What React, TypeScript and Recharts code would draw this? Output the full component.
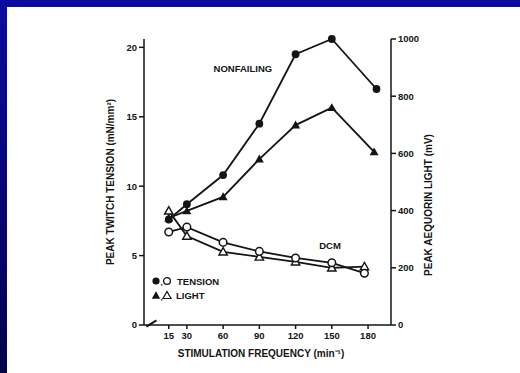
import React from 'react';
import {
    ComposedChart,
    Line,
    XAxis,
    YAxis,
    Legend,
    ReferenceDot,
    ReferenceLine,
} from 'recharts';

// ---- data ----
const frequencyTicks = [15, 30, 60, 90, 120, 150, 180];
const tensionTicks = [0, 5, 10, 15, 20];
const lightTicks = [0, 200, 400, 600, 800, 1000];

const nfTensionFreq = [15, 30, 60, 90, 120, 150, 187];
const nfTension = [7.6, 8.7, 10.8, 14.5, 19.5, 20.6, 17.0];

const nfLightFreq = [15, 30, 60, 90, 120, 150, 185];
const nfLight = [374, 399, 448, 580, 699, 760, 605];

const dcmFreq = [15, 30, 60, 90, 120, 150, 177];
const dcmTension = [6.7, 7.05, 5.95, 5.3, 4.83, 4.48, 3.73];
const dcmLight = [399, 311, 256, 238, 221, 200, 204];

const toPoints = (xs: number[], ys: number[]) => xs.map((x, i) => ({ freq: x, value: ys[i] }));

const INK = '#141414';
const FONT = "'Liberation Sans', Arial, sans-serif";

/**
 * Marker shapes
 */
function FilledCircle(props: any) {
    const { cx, cy, index } = props;
    if (cx == null || cy == null) return null;
    return <circle key={`fc-${index}`} cx={cx} cy={cy} r={3.9} fill={INK} />;
}

function OpenCircle(props: any) {
    const { cx, cy, index } = props;
    if (cx == null || cy == null) return null;
    return <circle key={`oc-${index}`} cx={cx} cy={cy} r={3.8} fill="#fff" stroke={INK} strokeWidth={1.5} />;
}

function trianglePath(cx: number, cy: number, s: number) {
    return `M${cx},${cy - s} L${cx + s},${cy + s * 0.75} L${cx - s},${cy + s * 0.75} Z`;
}

function FilledTriangle(props: any) {
    const { cx, cy, index } = props;
    if (cx == null || cy == null) return null;
    return <path key={`ft-${index}`} d={trianglePath(cx, cy, 4.5)} fill={INK} />;
}

function OpenTriangle(props: any) {
    const { cx, cy, index } = props;
    if (cx == null || cy == null) return null;
    return <path key={`ot-${index}`} d={trianglePath(cx, cy, 4.2)} fill="#fff" stroke={INK} strokeWidth={1.4} />;
}

/**
 * Axis title placed relative to the axis box
 */
function AxisTitle(props: any) {
    const { viewBox, text, offX = 0, offY = 0, turn = 0 } = props;
    const vb = viewBox || { x: 0, y: 0, width: 0, height: 0 };
    const cx = vb.x + vb.width / 2 + offX;
    const cy = vb.y + vb.height / 2 + offY;
    return (
        <g transform={turn ? `rotate(${turn}, ${cx}, ${cy})` : undefined}>
            <text
                x={cx}
                y={cy}
                textAnchor="middle"
                dominantBaseline="central"
                fill={INK}
                fontSize={10}
                fontWeight={700}
                fontFamily={FONT}
            >
                {text}
            </text>
        </g>
    );
}

/**
 * Symbol key drawn inside the plot
 */
function SymbolKey() {
    const row: React.CSSProperties = {
        display: 'flex',
        alignItems: 'center',
        height: 14,
        fontFamily: FONT,
        fontSize: 9.5,
        fontWeight: 700,
        color: INK,
        whiteSpace: 'nowrap',
    };
    return (
        <div>
            <div style={row}>
                <svg width={24} height={12}>
                    <circle cx={5} cy={6} r={3.6} fill={INK} />
                    <text x={9.5} y={10} fontSize={8} fill={INK}>,</text>
                    <circle cx={16} cy={6} r={3.4} fill="#fff" stroke={INK} strokeWidth={1.3} />
                </svg>
                <span style={{ marginLeft: 2 }}>TENSION</span>
            </div>
            <div style={row}>
                <svg width={24} height={12}>
                    <path d={trianglePath(5, 6.5, 4.2)} fill={INK} />
                    <text x={9.5} y={11} fontSize={8} fill={INK}>,</text>
                    <path d={trianglePath(16, 6.5, 4)} fill="#fff" stroke={INK} strokeWidth={1.2} />
                </svg>
                <span style={{ marginLeft: 1 }}>LIGHT</span>
            </div>
        </div>
    );
}

export default function App() {
    const tickStyle = { fill: INK, fontSize: 9.5, fontWeight: 700, fontFamily: FONT };
    const axisLine = { stroke: INK, strokeWidth: 1.5 };

    return (
        <div
            style={{
                position: 'absolute',
                left: 0,
                top: 0,
                width: 520,
                height: 373,
                background: 'linear-gradient(to bottom, #0b0ba0, #03034a)',
                overflow: 'hidden',
            }}
        >
            <div style={{ position: 'absolute', left: 7, top: 7, right: 0, bottom: 0, background: '#fff' }} />
            <div style={{ position: 'absolute', left: 0, top: 0 }}>
                <ComposedChart width={520} height={373} margin={{ top: 39, right: 0, bottom: 0, left: 0 }}>
                    <XAxis
                        xAxisId="f"
                        type="number"
                        dataKey="freq"
                        domain={[-5.5, 199]}
                        ticks={frequencyTicks}
                        allowDataOverflow
                        height={48}
                        tickSize={4}
                        tickMargin={3}
                        axisLine={axisLine}
                        tickLine={axisLine}
                        tick={tickStyle}
                        label={<AxisTitle text="STIMULATION FREQUENCY (min⁻¹)" offX={-6.5} offY={4} />}
                    />
                    <YAxis
                        yAxisId="t"
                        orientation="left"
                        domain={[0, 20]}
                        ticks={tensionTicks}
                        width={144}
                        tickSize={5}
                        tickMargin={2}
                        axisLine={axisLine}
                        tickLine={axisLine}
                        tick={tickStyle}
                        label={<AxisTitle text="PEAK TWITCH TENSION (mN/mm²)" offX={38} offY={0} turn={-90} />}
                    />
                    <YAxis
                        yAxisId="l"
                        orientation="right"
                        domain={[0, 1000]}
                        ticks={lightTicks}
                        width={129}
                        tickSize={5}
                        tickMargin={2}
                        axisLine={axisLine}
                        tickLine={axisLine}
                        tick={tickStyle}
                        label={<AxisTitle text="PEAK AEQUORIN LIGHT (mV)" offX={-27.5} offY={23} turn={-90} />}
                    />

                    {/* axis break on the frequency axis */}
                    <ReferenceLine
                        xAxisId="f"
                        yAxisId="t"
                        segment={[{ x: -3.5, y: -0.12 }, { x: 4.8, y: 0.33 }]}
                        stroke={INK}
                        strokeWidth={2}
                        ifOverflow="visible"
                    />

                    <Line
                        xAxisId="f"
                        yAxisId="t"
                        data={toPoints(nfTensionFreq, nfTension)}
                        dataKey="value"
                        name="Nonfailing tension"
                        stroke={INK}
                        strokeWidth={1.8}
                        dot={FilledCircle}
                        activeDot={false}
                        isAnimationActive={false}
                    />
                    <Line
                        xAxisId="f"
                        yAxisId="l"
                        data={toPoints(nfLightFreq, nfLight)}
                        dataKey="value"
                        name="Nonfailing light"
                        stroke={INK}
                        strokeWidth={1.8}
                        dot={FilledTriangle}
                        activeDot={false}
                        isAnimationActive={false}
                    />
                    <Line
                        xAxisId="f"
                        yAxisId="l"
                        data={toPoints(dcmFreq, dcmLight)}
                        dataKey="value"
                        name="DCM light"
                        stroke={INK}
                        strokeWidth={1.8}
                        dot={OpenTriangle}
                        activeDot={false}
                        isAnimationActive={false}
                    />
                    <Line
                        xAxisId="f"
                        yAxisId="t"
                        data={toPoints(dcmFreq, dcmTension)}
                        dataKey="value"
                        name="DCM tension"
                        stroke={INK}
                        strokeWidth={1.8}
                        dot={OpenCircle}
                        activeDot={false}
                        isAnimationActive={false}
                    />

                    {/* group labels */}
                    <ReferenceDot
                        xAxisId="f"
                        yAxisId="t"
                        x={76.4}
                        y={18.5}
                        r={0}
                        fill="none"
                        stroke="none"
                        label={{ value: 'NONFAILING', position: 'center', fill: INK, fontSize: 9.5, fontWeight: 700, fontFamily: FONT }}
                    />
                    <ReferenceDot
                        xAxisId="f"
                        yAxisId="t"
                        x={148.5}
                        y={5.73}
                        r={0}
                        fill="none"
                        stroke="none"
                        label={{ value: 'DCM', position: 'center', fill: INK, fontSize: 9.5, fontWeight: 700, fontFamily: FONT }}
                    />

                    <Legend
                        layout="horizontal"
                        align="center"
                        verticalAlign="middle"
                        content={() => <SymbolKey />}
                        wrapperStyle={{ left: 151, top: 274, width: 'auto', height: 'auto' }}
                    />
                </ComposedChart>
            </div>
        </div>
    );
}
